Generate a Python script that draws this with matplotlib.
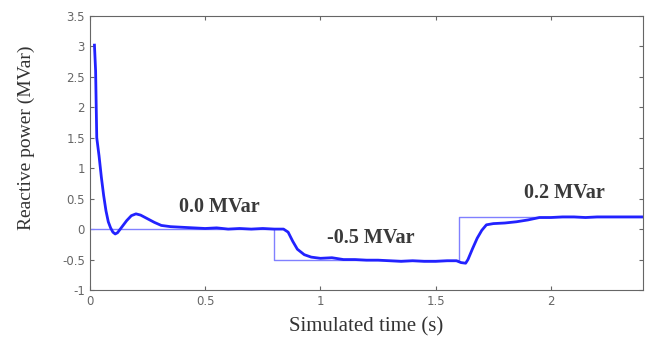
import matplotlib.pyplot as plt

# Response of reactive power
t = [0.02, 0.025, 0.03, 0.04, 0.05, 0.06, 0.07, 0.08, 0.09, 0.10, 0.11, 0.12, 0.14,
     0.16, 0.18, 0.20, 0.22, 0.25, 0.28, 0.31, 0.35, 0.40, 0.45, 0.50, 0.55, 0.60,
     0.65, 0.70, 0.75, 0.80, 0.84, 0.86, 0.88, 0.90, 0.93, 0.96, 1.00, 1.05, 1.10,
     1.15, 1.20, 1.25, 1.30, 1.35, 1.40, 1.45, 1.50, 1.55, 1.59, 1.61, 1.63, 1.64,
     1.66, 1.68, 1.70, 1.72, 1.75, 1.80, 1.85, 1.90, 1.95, 2.00, 2.05, 2.10, 2.15,
     2.20, 2.30, 2.40]
q = [3.02, 2.6, 1.5, 1.2, 0.85, 0.55, 0.3, 0.12, 0.02, -0.05, -0.08, -0.06, 0.04,
     0.14, 0.22, 0.25, 0.23, 0.17, 0.11, 0.06, 0.04, 0.03, 0.02, 0.01, 0.02, 0.0,
     0.01, 0.0, 0.01, 0.0, 0.0, -0.05, -0.2, -0.33, -0.42, -0.46, -0.48, -0.47, -0.5,
     -0.5, -0.51, -0.51, -0.52, -0.53, -0.52, -0.53, -0.53, -0.52, -0.52, -0.55, -0.56, -0.5,
     -0.32, -0.15, -0.02, 0.07, 0.09, 0.10, 0.12, 0.15, 0.19, 0.19, 0.2, 0.2, 0.19,
     0.2, 0.2, 0.2]

# Reference setpoint steps
ref_t = [0.0, 0.8, 0.8, 1.6, 1.6, 2.4]
ref_q = [0.0, 0.0, -0.5, -0.5, 0.2, 0.2]

labels = ['0.0 MVar', '-0.5 MVar', '0.2 MVar']
label_x = [0.56, 1.22, 2.06]
label_y = [0.36, -0.14, 0.6]

plt.rcParams['font.family'] = 'Liberation Serif'

fig = plt.figure(figsize=(6.51, 3.38), dpi=100)
ax = fig.add_axes([0.138, 0.142, 0.85, 0.811])

ax.plot(ref_t, ref_q, color='#8080ff', linewidth=1.0)
ax.plot(t, q, color='#2222ff', linewidth=2.0)

for s, x, y in zip(labels, label_x, label_y):
    ax.text(x, y, s, ha='center', va='center', fontsize=14.5, fontweight='bold',
            color='#3a3a3a')

ax.set_xlim(0, 2.4)
ax.set_ylim(-1, 3.5)
ax.set_xticks([0, 0.5, 1, 1.5, 2])
ax.set_xticklabels(['0', '0.5', '1', '1.5', '2'])
ax.set_yticks([-1, -0.5, 0, 0.5, 1, 1.5, 2, 2.5, 3, 3.5])
ax.set_yticklabels(['-1', '-0.5', '0', '0.5', '1', '1.5', '2', '2.5', '3', '3.5'])
ax.tick_params(direction='in', top=True, right=True, labelsize=8.5, colors='#666666',
               length=3)
for lbl in ax.get_xticklabels() + ax.get_yticklabels():
    lbl.set_family('DejaVu Sans')
for sp in ax.spines.values():
    sp.set_color('#666666')

ax.set_xlabel('Simulated time (s)', fontsize=15, color='#333333', labelpad=7)
ax.set_ylabel('Reactive power (MVar)', fontsize=14, color='#333333')
ax.yaxis.set_label_coords(-0.099, 0.555)

fig.savefig('out.png', dpi=100)
